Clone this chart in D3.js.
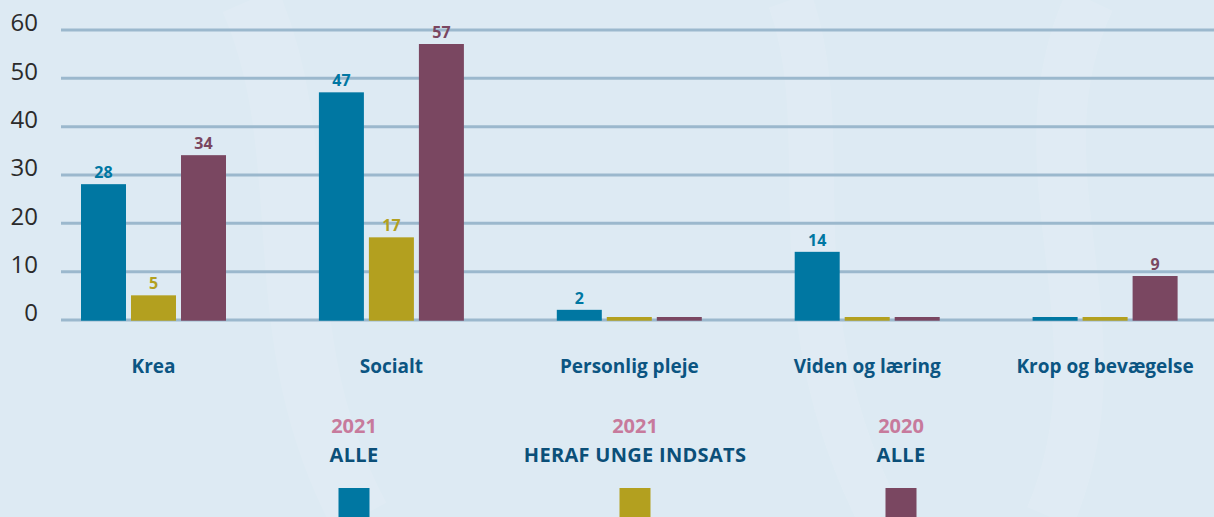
<!DOCTYPE html>
<html>
<head>
<meta charset="utf-8">
<script src="https://cdn.jsdelivr.net/npm/d3@7"></script>
<style>
  html, body { margin: 0; padding: 0; background: #ddeaf3; }
  svg { display: block; font-family: 'Open Sans', sans-serif; }
</style>
</head>
<body>
<svg id="chart"></svg>
<script>
var width = 1214,
    height = 517;

var categories = ['Krea', 'Socialt', 'Personlig pleje', 'Viden og læring', 'Krop og bevægelse'];
var seriesKeys = ['alle2021', 'unge2021', 'alle2020'];
var seriesYears = ['2021', '2021', '2020'];
var seriesNames = ['ALLE', 'HERAF UNGE INDSATS', 'ALLE'];
var alle2021 = [28, 47, 2, 14, 0];
var unge2021 = [5, 17, 0, 0, 0];
var alle2020 = [34, 57, 0, 0, 9];
var yTicks = [0, 10, 20, 30, 40, 50, 60];

var COLORS = ['#0077a2', '#b3a01f', '#7a4761'];

var rows = categories.map(function (c, i) {
    return {
        cat: c,
        values: [alle2021[i], unge2021[i], alle2020[i]].map(function (v, j) {
            return { key: seriesKeys[j], value: v };
        })
    };
});

var svg = d3.select('#chart')
    .attr('width', width)
    .attr('height', height);

svg.append('rect')
    .attr('width', width)
    .attr('height', height)
    .attr('fill', '#ddeaf3');

// faint background swirls
var deco = svg.append('g').attr('fill', 'none').attr('stroke', '#ffffff').attr('stroke-opacity', 0.09);
deco.append('path').attr('stroke-width', 60).attr('d', 'M250,0 C320,160 260,330 360,517');
deco.append('path').attr('stroke-width', 45).attr('d', 'M790,0 C840,140 770,300 880,517');
deco.append('path').attr('stroke-width', 50).attr('d', 'M1090,0 C1010,170 1130,330 1050,517');

var yScale = d3.scaleLinear()
    .domain([0, 60])
    .range([319.5, 29.5]);

var xScale = d3.scaleBand()
    .domain(categories)
    .range([81, 1177.6])
    .paddingInner(0.3905)
    .paddingOuter(0);

var xInner = d3.scaleBand()
    .domain(seriesKeys)
    .range([0, xScale.bandwidth()])
    .paddingInner(0.1)
    .paddingOuter(0);

var color = d3.scaleOrdinal()
    .domain(seriesKeys)
    .range(COLORS);

// gridlines + tick labels
var yAxis = d3.axisLeft(yScale)
    .tickValues(yTicks)
    .tickSize(-(width - 61))
    .tickPadding(23);

var axisG = svg.append('g')
    .attr('class', 'y axis')
    .attr('transform', 'translate(61, 0)')
    .call(yAxis);

axisG.select('.domain').remove();
axisG.selectAll('.tick line')
    .attr('stroke', '#9bb8cd')
    .attr('stroke-width', 3);
axisG.selectAll('.tick text')
    .attr('fill', '#2b2b2b')
    .attr('dy', '0.05em')
    .style('font-size', '24px')
    .style('font-family', "'Open Sans', sans-serif");

// bars
var groups = svg.selectAll('g.group')
    .data(rows)
    .enter()
    .append('g')
    .attr('class', 'group')
    .attr('transform', function (d) { return 'translate(' + xScale(d.cat) + ', 0)'; });

groups.selectAll('rect')
    .data(function (d) { return d.values; })
    .enter()
    .append('rect')
    .attr('x', function (d) { return xInner(d.key); })
    .attr('width', xInner.bandwidth())
    .attr('y', function (d) { return Math.min(yScale(d.value), yScale(0) - 2.5); })
    .attr('height', function (d) { return Math.max(yScale(0) - yScale(d.value), 2.5) + 1.2; })
    .attr('fill', function (d) { return color(d.key); });

groups.selectAll('text.val')
    .data(function (d) { return d.values.filter(function (v) { return v.value > 0; }); })
    .enter()
    .append('text')
    .attr('class', 'val')
    .attr('x', function (d) { return xInner(d.key) + xInner.bandwidth() / 2; })
    .attr('y', function (d) { return yScale(d.value) - 6; })
    .attr('text-anchor', 'middle')
    .attr('fill', function (d) { return color(d.key); })
    .style('font-size', '16px')
    .style('font-weight', '700')
    .text(function (d) { return d.value; });

// category labels
svg.append('g')
    .selectAll('text')
    .data(categories)
    .enter()
    .append('text')
    .attr('x', function (d) { return xScale(d) + xScale.bandwidth() / 2; })
    .attr('y', 373)
    .attr('text-anchor', 'middle')
    .attr('fill', '#0b5582')
    .style('font-size', '19px')
    .style('font-weight', '700')
    .text(function (d) { return d; });

// legend
var legendX = d3.scaleOrdinal()
    .domain(seriesKeys)
    .range([354, 635, 901]);

var legend = svg.selectAll('g.legend')
    .data(seriesKeys)
    .enter()
    .append('g')
    .attr('class', 'legend')
    .attr('transform', function (d) { return 'translate(' + legendX(d) + ', 0)'; });

legend.append('text')
    .attr('y', 433)
    .attr('text-anchor', 'middle')
    .attr('fill', '#c77a9c')
    .style('font-size', '20px')
    .style('font-weight', '700')
    .text(function (d, i) { return seriesYears[i]; });

legend.append('text')
    .attr('y', 462)
    .attr('text-anchor', 'middle')
    .attr('fill', '#0b4f78')
    .style('font-size', '20px')
    .style('font-weight', '700')
    .style('letter-spacing', '0.3px')
    .text(function (d, i) { return seriesNames[i]; });

legend.append('rect')
    .attr('x', -15.5)
    .attr('y', 488)
    .attr('width', 31)
    .attr('height', 31)
    .attr('fill', function (d) { return color(d); });
</script>
</body>
</html>
